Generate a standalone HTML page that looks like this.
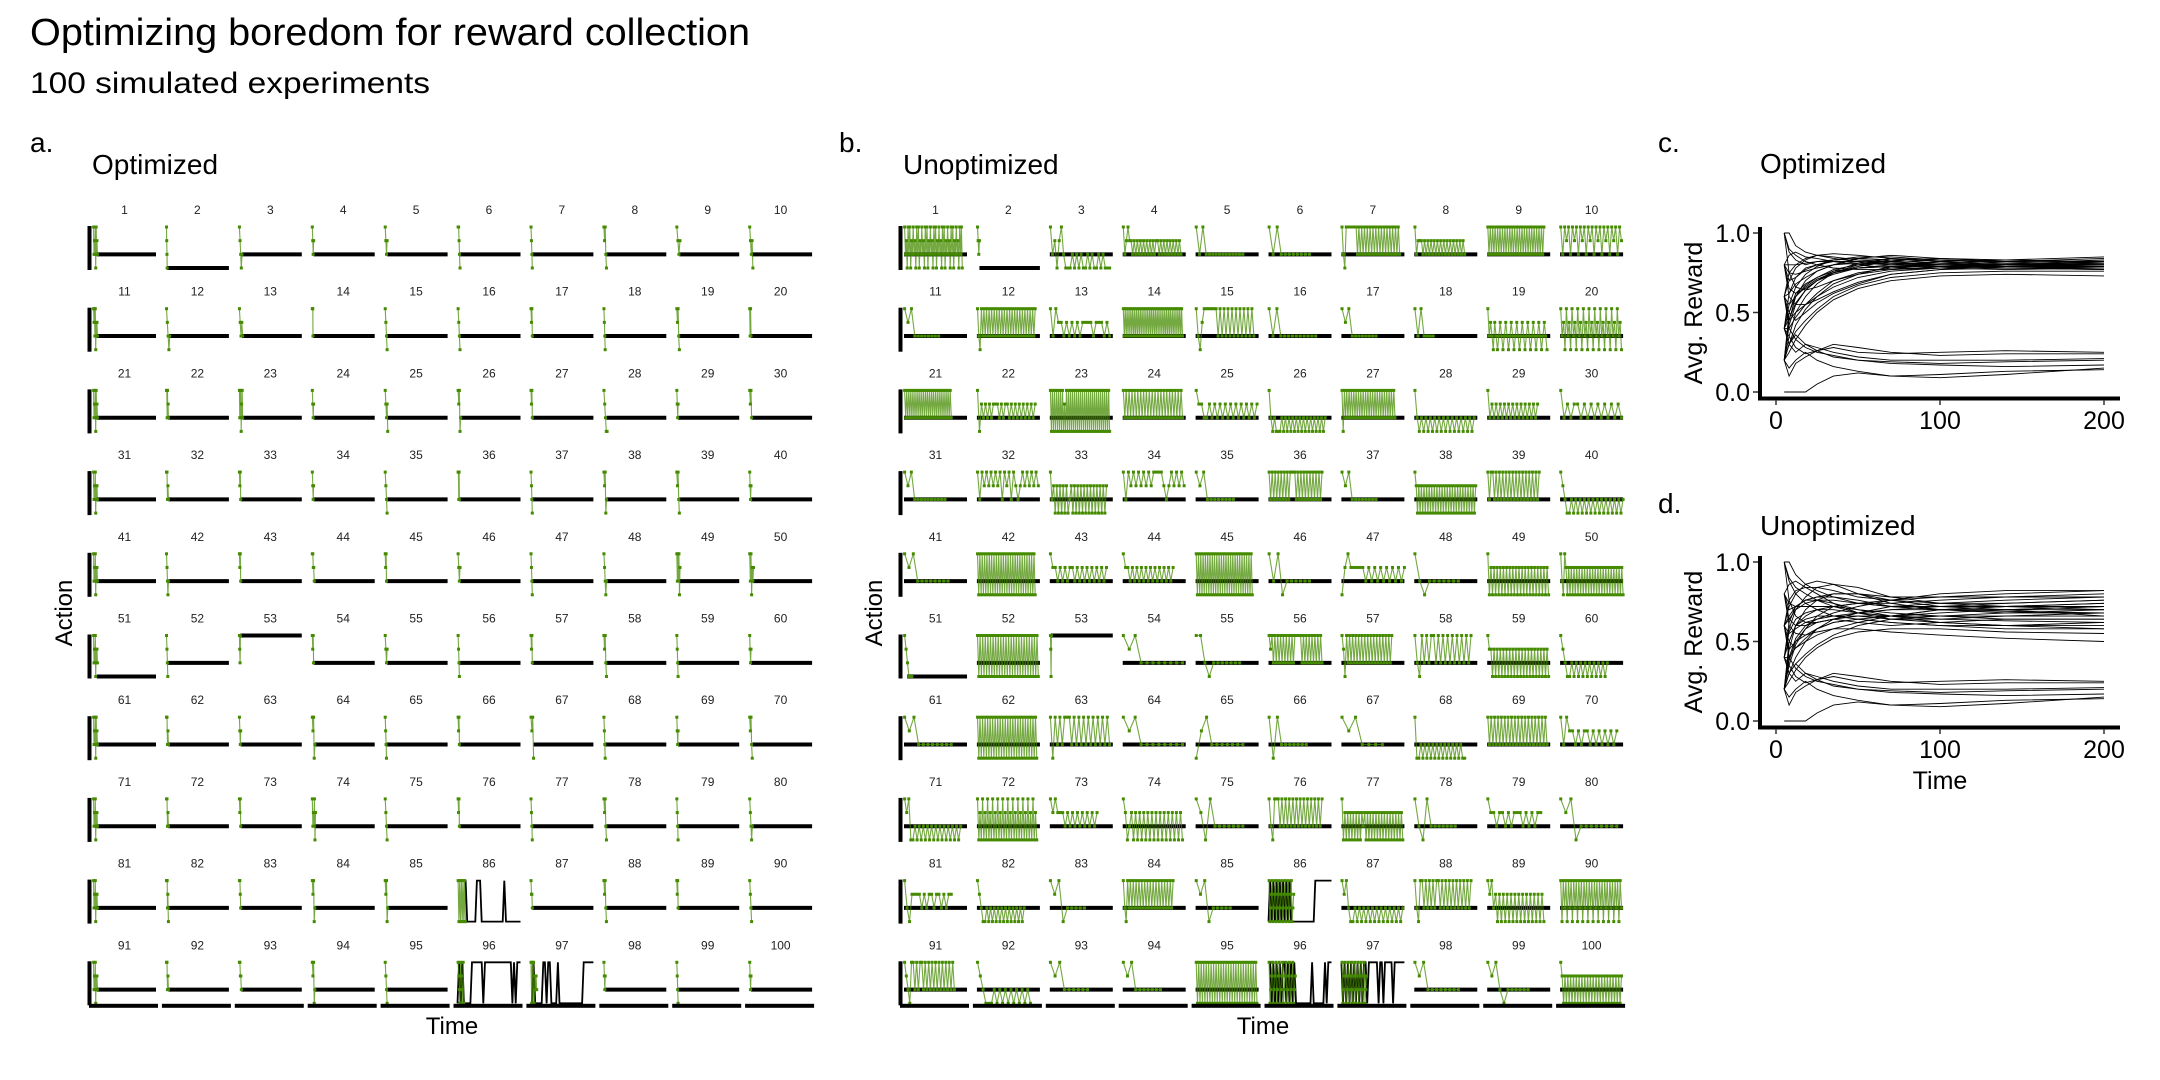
<!DOCTYPE html>
<html><head><meta charset="utf-8"><style>
html,body{margin:0;padding:0;background:#fff;}
svg{display:block;font-family:"Liberation Sans",Arial,sans-serif;}
</style></head><body>
<svg id="root" width="2160" height="1080" viewBox="0 0 2160 1080" xmlns="http://www.w3.org/2000/svg">
<rect width="2160" height="1080" fill="#fff"/>
<text x="30" y="45" font-size="38" textLength="720" lengthAdjust="spacingAndGlyphs">Optimizing boredom for reward collection</text>
<text x="30" y="93" font-size="30" textLength="400" lengthAdjust="spacingAndGlyphs">100 simulated experiments</text>
<text x="30" y="152" font-size="28">a.</text>
<text x="92" y="174" font-size="28">Optimized</text>
<text x="839" y="152" font-size="28">b.</text>
<text x="903" y="174" font-size="28">Unoptimized</text>
<text x="1658" y="152" font-size="28">c.</text>
<text x="1760" y="173" font-size="28">Optimized</text>
<text x="1658" y="513" font-size="28">d.</text>
<text x="1760" y="535" font-size="28">Unoptimized</text>
<text transform="translate(72,613) rotate(-90)" text-anchor="middle" font-size="24">Action</text>
<text transform="translate(882,613) rotate(-90)" text-anchor="middle" font-size="24">Action</text>
<text x="452" y="1034" text-anchor="middle" font-size="24">Time</text>
<text x="1263" y="1034" text-anchor="middle" font-size="24">Time</text>
<text transform="translate(1702,313) rotate(-90)" text-anchor="middle" font-size="25">Avg. Reward</text>
<text transform="translate(1702,642) rotate(-90)" text-anchor="middle" font-size="25">Avg. Reward</text>
<text x="1940" y="789" text-anchor="middle" font-size="25">Time</text>
<g id="gA"></g>
<g id="gB"></g>
<g id="gC"></g>
<g id="gD"></g>
</svg>
<script>
// Panel format: greenActions | greenEndTime | blackActions | blackStartTime  (levels 0=bottom..3=top)
const B86 = "3333330000003330000000000000030000000000";
const B96 = "0303000003333333033333333333333333030333";
const B97 = "0030000033033000030000000000000003333333";
const B86u = "0303030303030300000000000000033333333333";
const B96u = "3303030303303030300000000003000000030333";
const B97u = "3030303030303033033333303303333303333333";
const optPanels = [
"3121303121|14|1|12","3210|4|0|4","32101|10|1|10","3212|6|1|6","3212|8|1|8","33210|8|1|8","3210|6|1|6","32310|10|1|10","3212|12|1|10","32120|12|1|8",
"3231302121|14|1|12","32101|12|1|10","32121|12|1|10","3331|4|1|4","3210|8|1|8","3210|8|1|8","3231|6|1|6","3210|6|1|6","32310|10|1|10","3131|6|1|6",
"3121303121|14|1|12","3313121|8|1|8","3131302131|12|1|12","3212|6|1|6","32120|10|1|10","32301|10|1|10","3231|6|1|6","32100|12|1|10","3212|6|1|6","3231|8|1|8",
"3121302121|14|1|12","33121|8|1|8","3231|6|1|6","3212|6|1|6","3210|8|1|8","33131|6|1|6","3210|6|1|6","32301|10|1|10","32310|10|1|10","3212|6|1|6",
"3121302121|14|1|12","32101|8|1|8","3231|6|1|6","33221|8|1|8","3231|6|1|6","3212|8|1|8","3210|6|1|6","32101|10|1|10","3131302|12|1|12","3130212|14|1|12",
"3121302121|14|0|12","3210|6|1|6","3213|5|3|5","3231|6|1|6","3212|8|1|8","3210|6|1|6","3231|6|1|6","32310|10|1|10","3210|6|1|6","3212|6|1|6",
"3121303121|14|1|12","33121|8|1|8","3212|6|1|6","32301|10|1|10","3210|6|1|6","3231|6|1|6","3230|10|1|10","3210|6|1|6","3212|6|1|6","32310|10|1|10",
"3121302121|14|1|12","33121|8|1|8","3231|6|1|6","3121302|12|1|12","3210|8|1|8","3231|6|1|6","3210|6|1|6","32310|10|1|10","3210|6|1|6","32101|10|1|10",
"3121302121|14|1|12","3331210|8|1|8","3321|6|1|6","32301|10|1|10","32301|10|1|10","3030303030|25|"+B86+"|0","3221|6|1|6","32310|10|1|10","3231|6|1|6","3210|8|1|8",
"3121302121|14|1|12","33121|8|1|8","33221|8|1|8","32301|10|1|10","3210|8|1|8","3210321030|20|"+B96+"|0","3030302121|20|"+B97+"|0","3212|6|1|6","3210|6|1|6","3212|6|1|6"
];
const unoptPanels = [
"31203130213120313021312031302131203130213120313021312031302131203130|185|1|0","3212|8|0|8","3120231000101010010100101000|190|1|0","31232212121212121212122121212121212121|185|1|0","313111111111111|150|1|0","31311111111|130|1|0","310333333331313131313131313131313131313131|185|1|0","31222121212121212121212121212121|160|1|0","31313131313131313131313131313131313131313131313|180|1|0","31323132313231323132313231323132|195|1|0",
"32311111111|110|1|0","3103131313131313131313131313131313131313131313|185|1|0","31322121212122221222121|190|1|0","3131313131313131313131313131313131313131313131313131313131313131|190|1|0","310233333331313131313131313131|185|1|0","3131111111111|150|1|0","32311111111|110|1|0","3131111|60|1|0","31210210121012101210121012101210121012101210|190|1|0","31203120312031203120312031203120312031203120|195|1|0",
"3131313131313131313131313131313131313131313131|150|1|0","302121212221212212121212121212|185|1|0","303030303030302030303030303030303030303030303030303030303030|190|1|0","313131313131313131313131313131313131313131|190|1|0","322112121212121212121212|195|1|0","31010001010101010101010101010101|180|1|0","3031313131313131313131313131313131313131313131|170|1|0","3101010101010101010101010101|190|1|0","3121212121212121212121212|160|1|0","3121221212121212121|195|1|0",
"3231111111111|130|1|0","3132323232313231321232323232|195|1|0","312020202020120202020202020202020202|180|1|0","3132323232323333212323232|195|1|0","32311111111|120|1|0","313131313131313333131313131313131313|170|1|0","32311111111|110|1|0","320202020202020202020202020202020202020202020202|195|1|0","31331313131313131313131313131313|165|1|0","321001010101010101010101010101|200|1|0",
"32311111111|140|1|0","30303030303030303030303030303030303030303030303030|185|1|0","322121212212121212121212|180|1|0","32212121212121212121212|160|1|0","30303030303030303030303030303030303030303030303030|180|1|0","3130111111|130|1|0","0232222212121212121212|200|1|0","3101111111|140|1|0","3020202020202020202020202020202020202020|195|1|0","310320202020202020202020202020202020202020202020|200|1|0",
"321000|25|0|10","303030303030303030303030303030303030303030303030|195|1|0","3203|5|3|3","32311111111|190|1|0","33101111111|140|1|0","32313131313131313133333131313131313131|170|1|0","3203131313131313131313131313131313|160|1|0","3103131331313131313131313|180|1|0","3220202020202020202020202020202020202020|195|1|0","3210010101010101010101|150|1|0",
"32311111111|150|1|0","303030303030303030303030303030303030303030303030|190|1|0","30313133313131313131313131|190|1|0","32311111111|190|1|0","0231111111|150|1|0","3031111111|120|1|0","3231111|130|1|0","30010101010101010101010100|160|1|0","313131313131313131313131313131313131|190|1|0","31322121221212121212|180|1|0",
"3230010101010101010101010101|180|1|0","302030203020302030203020302030203020302030203020|190|1|0","32322212121212121212|150|1|0","320120202020202020202020202020|190|1|0","32031111111|150|1|0","310333131313131313131313131313|170|1|0","30202020202020212020202020202020202020202020|195|1|0","31031111111|130|1|0","3221221212221212122|170|1|0","323011111111|180|1|0",
"31022221212212212122|150|1|0","32100101010101010101010101|150|1|0","323011111|110|1|0","310313131313131313131313131313131313|160|1|0","323011111|110|1|0","30123012301230123012301230123012|80|"+B86u+"|0","32310010101010101010101010101|195|1|0","31033131313133131313131313131313|180|1|0","323120202020202020202020202020|180|1|0","303130313031303130313031303130313031303130313031|195|1|0",
"321033131331313131313131313131|160|1|0","32100010101010101010|170|1|0","323111111|120|1|0","3231111111|120|1|0","30303030303030303030303030303030303030303030303030|195|1|0","30123012301230123012301230123012|85|"+B96u+"|0","30123012301230123012301230123012|80|"+B97u+"|0","32311111111|140|1|0","32310111111|130|1|0","32020202020202020202020202020202020202020202|195|1|0"
];

// Avg. reward chart data (values at sampled times)
const rewardTimes = [5,8,12,18,25,35,50,70,100,140,200];
const rewardTicksY = [0.0,0.5,1.0];
const rewardTickLabelsY = ["0.0","0.5","1.0"];
const rewardTicksX = [0,100,200];
const optRewards = [
[1.0,1.0,0.92,0.88,0.86,0.84,0.82,0.8,0.8,0.79,0.8],
[1.0,0.88,0.83,0.8,0.82,0.83,0.84,0.83,0.81,0.8,0.82],
[0.8,0.86,0.88,0.85,0.84,0.82,0.8,0.78,0.78,0.77,0.78],
[0.6,0.7,0.78,0.83,0.86,0.87,0.86,0.84,0.82,0.8,0.8],
[0.4,0.55,0.66,0.74,0.79,0.83,0.85,0.85,0.83,0.81,0.8],
[0.2,0.45,0.6,0.7,0.76,0.8,0.84,0.86,0.84,0.82,0.81],
[0.2,0.35,0.5,0.6,0.68,0.75,0.8,0.83,0.84,0.83,0.82],
[0.4,0.3,0.42,0.52,0.6,0.68,0.74,0.79,0.8,0.8,0.79],
[0.6,0.45,0.5,0.55,0.6,0.66,0.72,0.76,0.78,0.79,0.8],
[0.8,0.6,0.55,0.55,0.58,0.63,0.69,0.74,0.77,0.78,0.77],
[0.2,0.3,0.38,0.45,0.52,0.6,0.67,0.72,0.75,0.76,0.76],
[0.6,0.62,0.68,0.72,0.76,0.8,0.82,0.82,0.8,0.79,0.78],
[0.8,0.75,0.74,0.76,0.78,0.8,0.81,0.8,0.79,0.78,0.79],
[0.4,0.5,0.6,0.67,0.72,0.77,0.8,0.81,0.81,0.82,0.84],
[0.2,0.25,0.33,0.42,0.5,0.58,0.65,0.7,0.73,0.74,0.73],
[0.6,0.5,0.45,0.5,0.56,0.62,0.68,0.74,0.77,0.8,0.82],
[1.0,0.75,0.66,0.64,0.66,0.7,0.74,0.77,0.79,0.8,0.8],
[0.8,0.7,0.72,0.77,0.8,0.83,0.84,0.83,0.81,0.8,0.81],
[0.4,0.62,0.72,0.78,0.8,0.82,0.82,0.81,0.8,0.78,0.77],
[0.2,0.5,0.62,0.68,0.72,0.76,0.78,0.79,0.79,0.79,0.79],
[0.6,0.75,0.8,0.84,0.86,0.85,0.83,0.82,0.8,0.8,0.8],
[1.0,0.9,0.86,0.82,0.8,0.78,0.77,0.77,0.78,0.8,0.81],
[0.4,0.4,0.47,0.55,0.62,0.7,0.75,0.78,0.8,0.81,0.83],
[0.8,0.65,0.62,0.65,0.7,0.74,0.78,0.8,0.82,0.83,0.85],
[0.6,0.55,0.6,0.66,0.71,0.75,0.79,0.82,0.83,0.82,0.82],
[0.2,0.42,0.55,0.64,0.7,0.76,0.81,0.84,0.83,0.81,0.8],
[0.4,0.46,0.56,0.64,0.7,0.75,0.78,0.79,0.79,0.78,0.78],
[0.8,0.8,0.8,0.81,0.82,0.82,0.82,0.81,0.8,0.79,0.79],
[0.0,0.0,0.0,0.0,0.05,0.1,0.12,0.1,0.09,0.11,0.15],
[0.2,0.15,0.2,0.25,0.2,0.16,0.13,0.1,0.11,0.13,0.14],
[0.2,0.3,0.36,0.3,0.26,0.22,0.2,0.19,0.18,0.19,0.2],
[0.4,0.3,0.25,0.3,0.28,0.25,0.22,0.2,0.2,0.2,0.21],
[0.2,0.1,0.18,0.22,0.26,0.3,0.28,0.25,0.23,0.24,0.24],
[0.6,0.4,0.33,0.28,0.25,0.23,0.2,0.18,0.17,0.16,0.17],
[0.4,0.35,0.28,0.24,0.26,0.28,0.25,0.24,0.25,0.26,0.25]
];
const unoptRewards = [
[1.0,1.0,0.92,0.86,0.82,0.78,0.74,0.72,0.72,0.74,0.76],
[1.0,0.88,0.8,0.74,0.7,0.66,0.64,0.66,0.7,0.72,0.74],
[0.8,0.86,0.88,0.84,0.8,0.74,0.68,0.64,0.62,0.6,0.58],
[0.6,0.72,0.8,0.86,0.88,0.86,0.8,0.74,0.7,0.68,0.68],
[0.4,0.58,0.7,0.78,0.84,0.86,0.84,0.78,0.74,0.72,0.7],
[0.2,0.45,0.6,0.7,0.76,0.8,0.8,0.76,0.72,0.7,0.66],
[0.2,0.35,0.48,0.58,0.66,0.72,0.74,0.72,0.7,0.7,0.72],
[0.4,0.3,0.4,0.5,0.58,0.64,0.68,0.7,0.7,0.7,0.72],
[0.6,0.45,0.5,0.54,0.58,0.62,0.64,0.62,0.6,0.6,0.62],
[0.8,0.6,0.55,0.54,0.56,0.58,0.58,0.56,0.54,0.52,0.5],
[0.2,0.3,0.36,0.42,0.48,0.54,0.6,0.64,0.66,0.68,0.7],
[0.6,0.64,0.7,0.74,0.76,0.76,0.74,0.74,0.76,0.78,0.8],
[0.8,0.74,0.72,0.72,0.72,0.72,0.7,0.68,0.66,0.64,0.64],
[0.4,0.5,0.6,0.66,0.7,0.72,0.74,0.76,0.78,0.78,0.78],
[0.2,0.25,0.32,0.4,0.46,0.52,0.56,0.58,0.58,0.56,0.55],
[0.6,0.5,0.46,0.5,0.54,0.58,0.62,0.66,0.7,0.72,0.74],
[1.0,0.76,0.66,0.62,0.62,0.64,0.66,0.66,0.66,0.66,0.68],
[0.8,0.7,0.72,0.76,0.78,0.8,0.8,0.78,0.78,0.8,0.82],
[0.4,0.62,0.72,0.76,0.76,0.74,0.7,0.66,0.62,0.6,0.6],
[0.2,0.5,0.6,0.64,0.66,0.66,0.66,0.64,0.64,0.66,0.66],
[0.6,0.76,0.82,0.84,0.84,0.82,0.78,0.76,0.74,0.74,0.76],
[1.0,0.9,0.84,0.8,0.76,0.72,0.68,0.66,0.64,0.63,0.62],
[0.4,0.4,0.46,0.52,0.58,0.62,0.64,0.62,0.6,0.58,0.58],
[0.8,0.64,0.6,0.6,0.62,0.64,0.68,0.72,0.74,0.76,0.78],
[0.6,0.55,0.58,0.62,0.64,0.66,0.68,0.7,0.72,0.72,0.72],
[0.2,0.4,0.52,0.6,0.64,0.68,0.72,0.76,0.8,0.82,0.82],
[0.4,0.56,0.64,0.68,0.7,0.7,0.68,0.66,0.68,0.7,0.7],
[0.2,0.38,0.5,0.58,0.62,0.64,0.62,0.6,0.62,0.64,0.64],
[0.6,0.66,0.72,0.76,0.78,0.78,0.76,0.72,0.7,0.69,0.68],
[0.0,0.0,0.0,0.0,0.05,0.1,0.12,0.1,0.09,0.11,0.15],
[0.2,0.15,0.2,0.25,0.2,0.16,0.13,0.1,0.11,0.13,0.14],
[0.2,0.3,0.36,0.3,0.26,0.22,0.2,0.19,0.18,0.19,0.2],
[0.4,0.3,0.25,0.3,0.28,0.25,0.22,0.2,0.2,0.2,0.21],
[0.2,0.1,0.18,0.22,0.26,0.3,0.28,0.25,0.23,0.24,0.24],
[0.6,0.4,0.33,0.28,0.25,0.23,0.2,0.18,0.17,0.16,0.17],
[0.4,0.35,0.28,0.24,0.26,0.28,0.25,0.24,0.25,0.26,0.25]
];

const NS = "http://www.w3.org/2000/svg";
function mk(tag, attrs, parent){
  const e = document.createElementNS(NS, tag);
  for (const k in attrs) e.setAttribute(k, attrs[k]);
  parent.appendChild(e);
  return e;
}
const GREEN = "#458B00";
const PITCH_X = 72.9, PITCH_Y = 81.7, PW = 65, PH = 41, TOP0 = 227;

function drawPanels(group, panels, x0base, prefix){
  panels.forEach((spec, i) => {
    const parts = spec.split("|");
    const gSeq = parts[0], gEnd = +parts[1], bSeq = parts[2], bStart = +parts[3];
    const col = i % 10, row = Math.floor(i / 10);
    const x0 = x0base + col * PITCH_X, top = TOP0 + row * PITCH_Y;
    const tx = t => x0 + 1 + t / 200 * (PW - 2);
    const ly = l => top + (3 - l) * PH / 3;
    const g = mk("g", {}, group);
    
    
    const lab = mk("text", {x: x0 + PW / 2, y: top - 13, "font-size": 12, "text-anchor": "middle", fill: "#222"}, g);
    lab.textContent = String(i + 1);
    
    
    let bl;
    if (bSeq.length === 1) {
      bl = mk("line", {x1: tx(bStart), x2: tx(200), y1: ly(+bSeq), y2: ly(+bSeq), stroke: "#000", "stroke-width": 4}, g);
    } else {
      const n = bSeq.length, pts = [];
      for (let k = 0; k < n; k++) {
        const t = bStart + (200 - bStart) * k / (n - 1);
        pts.push(tx(t).toFixed(1) + "," + ly(+bSeq[k]).toFixed(1));
      }
      bl = mk("polyline", {points: pts.join(" "), fill: "none", stroke: "#000", "stroke-width": 1.8}, g);
    }
    
    
    const m = gSeq.length, gpts = [];
    for (let k = 0; k < m; k++) {
      const t = 2 + (gEnd - 2) * (m > 1 ? k / (m - 1) : 0);
      gpts.push([tx(t), ly(+gSeq[k])]);
    }
    const gl = mk("polyline", {points: gpts.map(p => p[0].toFixed(1) + "," + p[1].toFixed(1)).join(" "), fill: "none", stroke: GREEN, "stroke-width": 1.1, "stroke-opacity": 0.75}, g);
    
    
    gpts.forEach(p => {
      const r = mk("rect", {x: p[0] - 1.5, y: p[1] - 1.5, width: 3, height: 3, fill: GREEN}, g);
      
      
    });
    if (col === 0) {
      const ya = mk("rect", {x: x0 - 4.5, y: top - 1, width: 4, height: PH + 3, fill: "#000"}, g);
      
      
    }
    if (row === 9) {
      const xa = mk("rect", {x: x0 - 3, y: top + PH + 0.5, width: PW + 4, height: 4, fill: "#000"}, g);
      
      
    }
  });
}
drawPanels(document.getElementById("gA"), optPanels, 92, "optimized");
drawPanels(document.getElementById("gB"), unoptPanels, 903, "unoptimized");

function drawReward(group, series, y0, prefix){
  const xs = t => 1776 + t / 200 * 328;
  const ys = v => y0 - v * 159;
  series.forEach((vals, i) => {
    const pts = vals.map((v, k) => xs(rewardTimes[k]).toFixed(1) + "," + ys(v).toFixed(1)).join(" ");
    const pl = mk("polyline", {points: pts, fill: "none", stroke: "#000", "stroke-width": 0.9}, group);
    
    
  });
  const ya = mk("rect", {x: 1758, y: ys(1) - 6, width: 4, height: 173, fill: "#000"}, group);
  
  
  const xa = mk("rect", {x: 1758, y: y0 + 4.5, width: 362, height: 4, fill: "#000"}, group);
  
  
  rewardTicksY.forEach((v, k) => {
    const tk = mk("line", {x1: 1753, x2: 1758, y1: ys(v), y2: ys(v), stroke: "#333", "stroke-width": 1.5}, group);
    
    
    const tl = mk("text", {x: 1750, y: ys(v) + 9, "text-anchor": "end", "font-size": 25}, group);
    tl.textContent = rewardTickLabelsY[k];
    
    
  });
  rewardTicksX.forEach(t => {
    const tk = mk("line", {x1: xs(t), x2: xs(t), y1: y0 + 8, y2: y0 + 13, stroke: "#333", "stroke-width": 1.5}, group);
    
    
    const tl = mk("text", {x: xs(t), y: y0 + 37, "text-anchor": "middle", "font-size": 25}, group);
    tl.textContent = String(t);
    
    
  });
}
drawReward(document.getElementById("gC"), optRewards, 392, "optimized");
drawReward(document.getElementById("gD"), unoptRewards, 721, "unoptimized");
</script>
</body></html>
